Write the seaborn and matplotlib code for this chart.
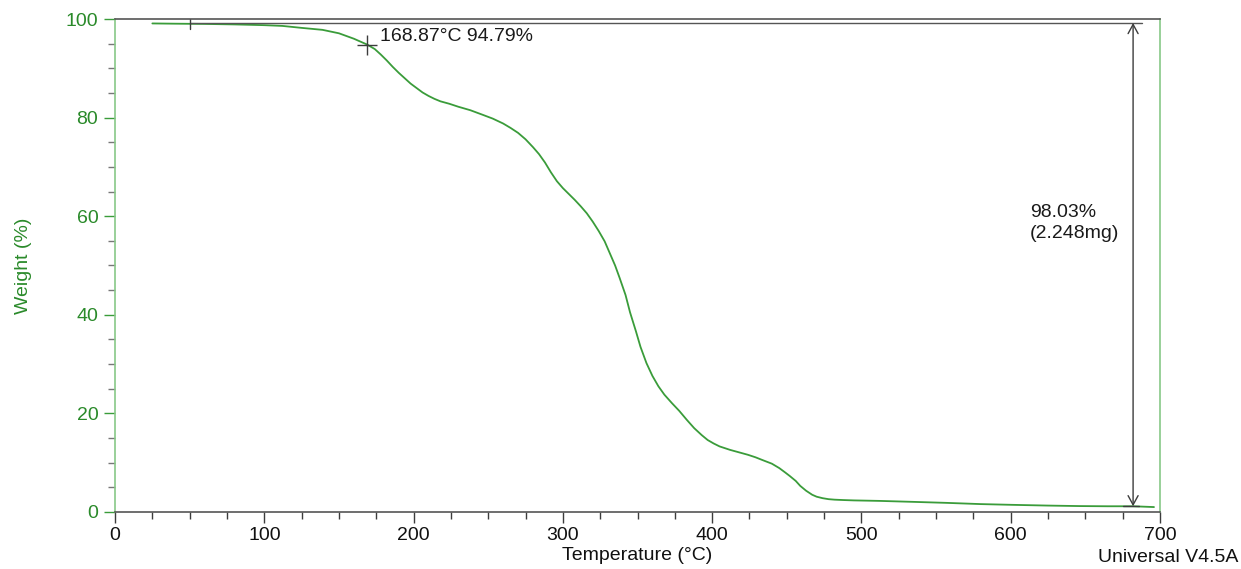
import matplotlib
matplotlib.use("Agg")
import matplotlib.pyplot as plt
from matplotlib.ticker import MultipleLocator
import seaborn as sns
import pandas as pd

# TGA run: sample temperature (°C) and remaining weight (%)
temperature = [25, 40, 60, 80, 100, 112, 125, 139, 150, 160, 169, 174, 178, 182,
               186, 190, 194, 198, 202, 206, 210, 214, 218, 224, 230, 238, 246,
               253, 260, 265, 270, 275, 280, 284, 288, 292, 296, 300, 304, 308,
               312, 316, 320, 324, 328, 331, 335, 338, 342, 345, 349, 352, 356,
               360, 364, 368, 373, 378, 383, 388, 393, 397, 401, 405, 412, 418,
               424, 429, 434, 440, 445, 449, 452, 456, 459, 463, 467, 470, 474,
               478, 482, 488, 495, 512, 535, 557, 580, 601, 625, 646, 665, 682,
               696]
weight = [99.10, 99.05, 99.00, 98.90, 98.75, 98.60, 98.20, 97.80, 97.10, 96.00,
          94.80, 93.90, 92.80, 91.60, 90.30, 89.10, 88.00, 86.90, 86.00, 85.10,
          84.40, 83.80, 83.30, 82.80, 82.20, 81.50, 80.60, 79.80, 78.80, 77.90,
          76.90, 75.60, 74.00, 72.60, 70.90, 68.90, 67.10, 65.70, 64.50, 63.30,
          62.00, 60.60, 58.90, 57.00, 54.90, 52.80, 50.00, 47.50, 44.00, 40.50,
          36.60, 33.50, 30.20, 27.60, 25.50, 23.80, 22.10, 20.50, 18.70, 17.00,
          15.60, 14.60, 13.90, 13.30, 12.60, 12.10, 11.60, 11.10, 10.50, 9.80,
          8.90, 8.00, 7.30, 6.30, 5.30, 4.30, 3.50, 3.10, 2.80, 2.60, 2.50, 2.42,
          2.35, 2.25, 2.05, 1.85, 1.60, 1.45, 1.30, 1.20, 1.16, 1.16, 1.00]

# Onset point and total weight-loss step
onset_temp, onset_weight = 168.87, 94.79
step_temp = 682
step_start, step_end = 99.19, 1.16
step_label = "98.03%\n(2.248mg)"
baseline_start = 50

df = pd.DataFrame({"Temperature": temperature, "Weight": weight})

sns.set_theme(style="white")
plt.rcParams["font.family"] = ["Liberation Sans", "DejaVu Sans"]

GREEN = "#3a9c3a"
LABEL_GREEN = "#2a8a2a"
SPINE_GREEN = "#88c888"
DARK = "#3c3c3c"
FS = 14

fig = plt.figure(figsize=(12.41, 5.69), dpi=100)
ax = fig.add_axes([0.0927, 0.1002, 0.8420, 0.8664])

sns.lineplot(data=df, x="Temperature", y="Weight", ax=ax, color=GREEN,
             linewidth=1.3, sort=False)

# Baseline at the starting weight with its marker tick
ax.plot([baseline_start, 688], [step_start, step_start], color="#555555", lw=1.0)
ax.plot([baseline_start, baseline_start], [step_start - 1.2, step_start + 1.1],
        color=DARK, lw=1.0)
ax.plot([675, 686], [step_end, step_end], color=DARK, lw=1.0)

# Onset marker and label
ax.plot([onset_temp], [onset_weight], marker="+", markersize=14, color=DARK,
        mew=1.0)
ax.text(onset_temp + 8.5, onset_weight + 1.7, f"{onset_temp:.2f}°C {onset_weight:.2f}%",
        fontsize=FS, color="#1a1a1a", va="center", ha="left")

# Total weight-loss double arrow
ax.annotate("", xy=(step_temp, step_end), xytext=(step_temp, step_start),
            arrowprops=dict(arrowstyle="<->,head_length=0.55,head_width=0.3",
                            color=DARK, lw=1.0, shrinkA=0, shrinkB=0))
ax.text(613, 58.6, step_label, fontsize=FS, color="#1a1a1a",
        va="center", ha="left", linespacing=1.3)

ax.set_xlim(0, 700)
ax.set_ylim(0, 100)
ax.xaxis.set_major_locator(MultipleLocator(100))
ax.xaxis.set_minor_locator(MultipleLocator(25))
ax.yaxis.set_major_locator(MultipleLocator(20))
ax.yaxis.set_minor_locator(MultipleLocator(5))

ax.tick_params(axis="x", which="major", direction="out", length=8, width=1,
               color=DARK, labelsize=FS, labelcolor="#111111", pad=3,
               bottom=True)
ax.tick_params(axis="x", which="minor", direction="out", length=5, width=1,
               color=DARK, bottom=True)
ax.tick_params(axis="y", which="major", direction="out", length=8, width=1,
               color=GREEN, labelsize=FS, labelcolor=LABEL_GREEN, pad=4,
               left=True)
ax.tick_params(axis="y", which="minor", direction="out", length=5, width=1,
               color="#777777", left=True)

ax.spines["left"].set_color(SPINE_GREEN)
ax.spines["right"].set_color(SPINE_GREEN)
ax.spines["top"].set_color("#555555")
ax.spines["bottom"].set_color("#555555")
for s in ax.spines.values():
    s.set_linewidth(1.2)

ax.set_xlabel("Temperature (°C)", fontsize=FS, color="#111111", labelpad=2)
ax.set_ylabel("Weight (%)", fontsize=FS, color=LABEL_GREEN, labelpad=24)

fig.text(0.9975, 0.006, "Universal V4.5A", fontsize=FS, color="#111111",
         ha="right", va="bottom")

fig.savefig("out.png", dpi=100, facecolor="white")
